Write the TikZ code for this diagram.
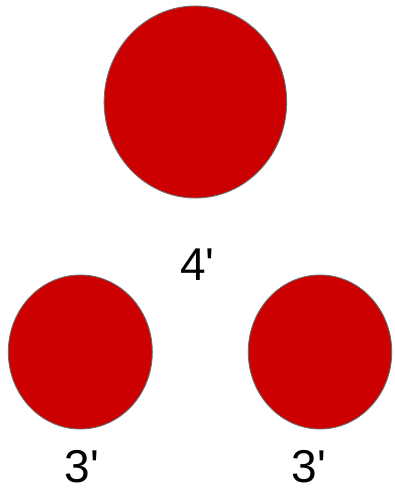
\documentclass[tikz,border=0pt]{standalone}
\usepackage{fontspec}
\newfontfamily\lbfont{Liberation Sans}
\usetikzlibrary{shapes.geometric}
\definecolor{ballred}{HTML}{CC0000}
\definecolor{rimgray}{HTML}{6E6E6E}
\begin{document}
\begin{tikzpicture}[x=1pt,y=-1pt,
  ball/.style={ellipse,draw=rimgray,line width=0.9pt,fill=ballred,inner sep=0pt},
  lbl/.style={anchor=base west,inner sep=0pt,font=\lbfont\fontsize{46}{46}\selectfont}]
\useasboundingbox (0,0) rectangle (395,491);
\node[ball,minimum width=182.5pt,minimum height=192pt] (big) at (195.4,102) {};
\node[ball,minimum width=144pt,minimum height=154pt] (left) at (80.3,352) {};
\node[ball,minimum width=143.5pt,minimum height=154pt] (right) at (320,352) {};
\node[lbl] (t4) at (180,280) {4'};
\node[lbl] (t3a) at (64.7,482) {3'};
\node[lbl] (t3b) at (291.3,482) {3'};
\end{tikzpicture}
\end{document}
